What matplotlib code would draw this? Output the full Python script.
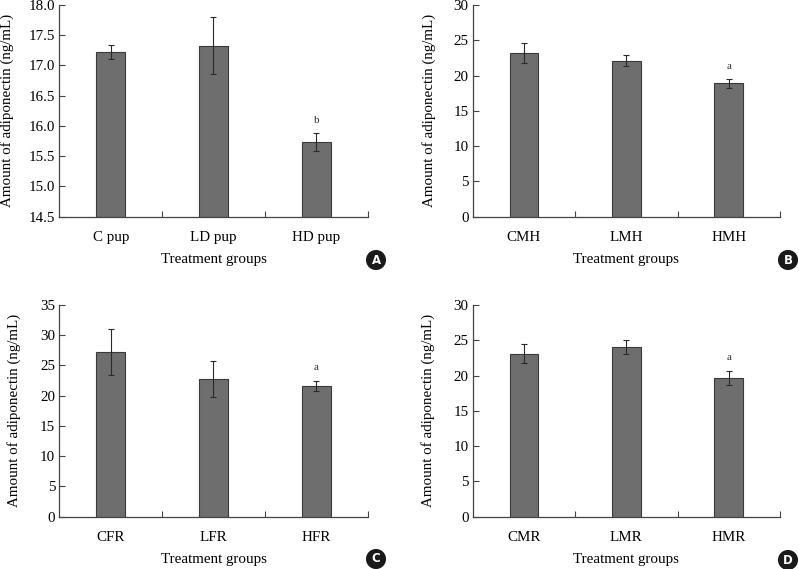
import matplotlib
matplotlib.use("Agg")
import matplotlib.pyplot as plt
import numpy as np

plt.rcParams['font.family'] = ['Liberation Serif', 'DejaVu Serif']

# panel data: labels, means, errors, significance letters
a_groups = ['C pup', 'LD pup', 'HD pup']
a_means = [17.22, 17.33, 15.73]
a_errs = [0.12, 0.47, 0.15]
a_marks = ['', '', 'b']

b_groups = ['CMH', 'LMH', 'HMH']
b_means = [23.2, 22.1, 18.9]
b_errs = [1.45, 0.8, 0.6]
b_marks = ['', '', 'a']

c_groups = ['CFR', 'LFR', 'HFR']
c_means = [27.3, 22.8, 21.6]
c_errs = [3.8, 3.0, 0.85]
c_marks = ['', '', 'a']

d_groups = ['CMR', 'LMR', 'HMR']
d_means = [23.1, 24.0, 19.7]
d_errs = [1.35, 1.0, 1.0]
d_marks = ['', '', 'a']

W, H = 799, 569
FS = 10.8
fig = plt.figure(figsize=(W / 100, H / 100), dpi=100)


def panel(rect, groups, means, errs, marks, ylim, yticks, fmt, letter,
          badge_xy, ylab_x):
    l, t, r, b = rect
    ax = fig.add_axes([l / W, 1 - b / H, (r - l) / W, (b - t) / H])
    x = np.arange(len(groups))
    ax.bar(x, [m - ylim[0] for m in means], bottom=ylim[0], width=0.28,
           color='#6e6e6e', edgecolor='#3a3a3a', linewidth=0.8, zorder=2)
    ax.errorbar(x, means, yerr=errs, fmt='none', ecolor='#2a2a2a',
                elinewidth=0.8, capsize=2.5, capthick=0.8, zorder=3)
    span = ylim[1] - ylim[0]
    for xi, m, e, s in zip(x, means, errs, marks):
        if s:
            ax.text(xi, m + e + span * 0.04, s, ha='center', va='bottom',
                    fontsize=8, color='#333333')
    ax.set_xlim(-0.5, len(groups) - 0.5)
    ax.set_ylim(*ylim)
    ax.set_yticks(yticks)
    ax.set_yticklabels([fmt.format(v) for v in yticks])
    ax.set_xticks(x + 0.5)
    ax.set_xticklabels([])
    ax.set_xticks(x, minor=True)
    ax.set_xticklabels(groups, minor=True)
    ax.tick_params(axis='x', which='minor', length=0, pad=10, labelsize=FS)
    ax.tick_params(axis='x', which='major', direction='in', length=4,
                   width=0.8, color='#444444')
    ax.tick_params(axis='y', direction='in', length=4, width=0.8,
                   color='#444444', labelsize=FS, pad=3)
    for sp in ['top', 'right']:
        ax.spines[sp].set_visible(False)
    for sp in ['left', 'bottom']:
        ax.spines[sp].set_color('#444444')
        ax.spines[sp].set_linewidth(0.9)
    ax.set_ylabel('Amount of adiponectin (ng/mL)', fontsize=FS)
    ax.yaxis.set_label_coords(ylab_x, 0.5)
    ax.set_xlabel('Treatment groups', fontsize=FS, va='center')
    ax.xaxis.set_label_coords(0.5, -43.3 / (b - t))
    fig.text(badge_xy[0] / W, 1 - badge_xy[1] / H, letter, ha='center',
             va='center', fontsize=8.5, fontweight='bold', color='white',
             family='DejaVu Sans',
             bbox=dict(boxstyle='circle,pad=0.3', fc='#1a1a1a', ec='none'))
    return ax


panel((59.3, 5, 367.7, 216.7), a_groups, a_means, a_errs, a_marks,
      (14.5, 18.0), np.arange(14.5, 18.01, 0.5), '{:.1f}', 'A', (376, 260),
      -0.148)
panel((472.7, 5, 780, 216.7), b_groups, b_means, b_errs, b_marks,
      (0, 30), np.arange(0, 31, 5), '{:.0f}', 'B', (788, 260), -0.12)
panel((59.3, 305, 367.7, 516.7), c_groups, c_means, c_errs, c_marks,
      (0, 35), np.arange(0, 36, 5), '{:.0f}', 'C', (376, 559), -0.124)
panel((472.7, 305, 780, 516.7), d_groups, d_means, d_errs, d_marks,
      (0, 30), np.arange(0, 31, 5), '{:.0f}', 'D', (788, 560), -0.123)

fig.savefig('out.png', dpi=100)
